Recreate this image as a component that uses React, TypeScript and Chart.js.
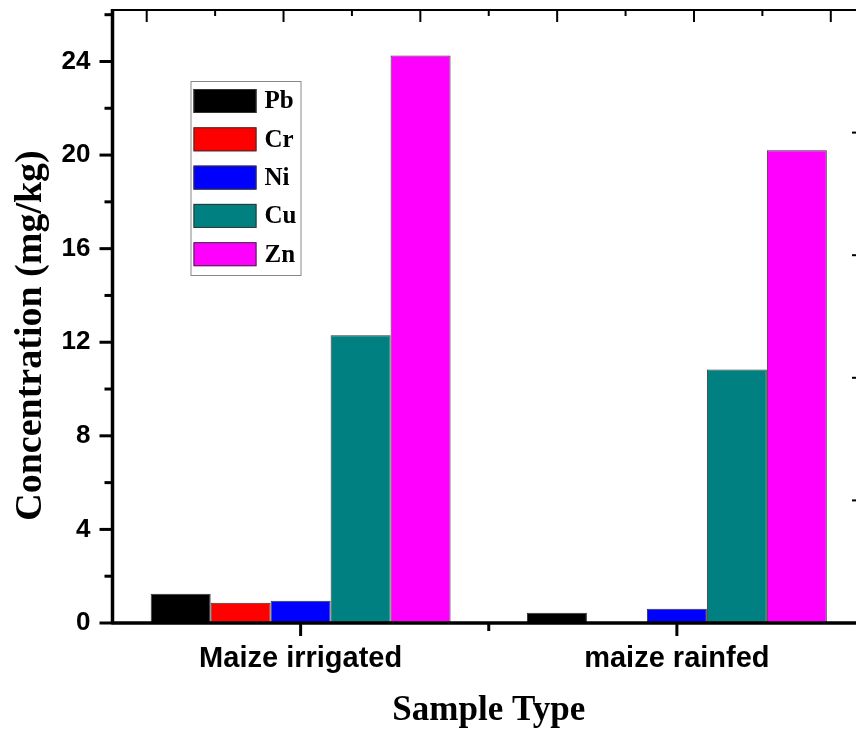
import React, { useEffect, useRef } from "react";
import { Chart, registerables } from "chart.js";

Chart.register(...registerables);

const categories = ["Maize irrigated", "maize rainfed"];
const seriesNames = ["Pb", "Cr", "Ni", "Cu", "Zn"];
const seriesColors = ["#000000", "#ff0000", "#0000ff", "#008080", "#ff00ff"];
const pbValues = [1.25, 0.44];
const crValues = [0.87, 0];
const niValues = [0.95, 0.61];
const cuValues = [12.3, 10.83];
const znValues = [24.25, 20.21];
const yMajorTicks = [0, 4, 8, 12, 16, 20, 24];
const yTitle = "Concentration (mg/kg)";
const xTitle = "Sample Type";

const allValues = [pbValues, crValues, niValues, cuValues, znValues];

const noPad = (s: any) => {
  s.paddingTop = 0;
  s.paddingBottom = 0;
  s.paddingLeft = 0;
  s.paddingRight = 0;
};

const framePlugin = {
  id: "originFrame",
  afterDatasetsDraw(chart: any) {
    const { ctx, chartArea, scales } = chart;
    const { left, right, top, bottom } = chartArea;
    const y = scales.y;
    const x = scales.x;
    const xTop = scales.xTop;
    const yRight = scales.yRight;
    ctx.save();
    ctx.strokeStyle = "#000";
    ctx.lineCap = "butt";

    // top and right lines
    ctx.lineWidth = 2;
    ctx.beginPath();
    ctx.moveTo(left, top);
    ctx.lineTo(right, top);
    ctx.moveTo(right, top);
    ctx.lineTo(right, bottom);
    ctx.stroke();

    // top ticks (inward)
    for (let v = 0; v <= 5.0001; v += 0.5) {
      const px = xTop.getPixelForValue(v);
      const major = Math.abs(v - Math.round(v)) < 1e-6;
      ctx.beginPath();
      ctx.moveTo(px, top);
      ctx.lineTo(px, top + (major ? 12 : 6));
      ctx.stroke();
    }
    // right ticks (inward)
    for (let v = 0; v <= 5.0001; v += 1) {
      const py = yRight.getPixelForValue(v);
      ctx.beginPath();
      ctx.moveTo(right, py);
      ctx.lineTo(right - 13, py);
      ctx.stroke();
    }

    // left axis & bottom axis thick
    ctx.lineWidth = 3.5;
    ctx.beginPath();
    ctx.moveTo(left, top - 1);
    ctx.lineTo(left, bottom + 1);
    ctx.stroke();
    ctx.beginPath();
    ctx.moveTo(left - 1, bottom);
    ctx.lineTo(right, bottom);
    ctx.stroke();

    // left ticks outward
    ctx.lineWidth = 3;
    for (let v = 0; v <= 26.0001; v += 2) {
      const py = y.getPixelForValue(v);
      const major = yMajorTicks.includes(v);
      ctx.beginPath();
      ctx.moveTo(left, py);
      ctx.lineTo(left - (major ? 13 : 8), py);
      ctx.stroke();
    }
    // bottom ticks outward
    const n = categories.length;
    for (let i = 0; i < n; i++) {
      const px = x.getPixelForValue(i);
      ctx.beginPath();
      ctx.moveTo(px, bottom);
      ctx.lineTo(px, bottom + 13);
      ctx.stroke();
      if (i < n - 1) {
        const mx = (px + x.getPixelForValue(i + 1)) / 2;
        ctx.beginPath();
        ctx.moveTo(mx, bottom);
        ctx.lineTo(mx, bottom + 8);
        ctx.stroke();
      }
    }

    // legend
    const lx = left + 78;
    const ly = top + 71;
    const rowH = 38.3;
    const boxW = 110;
    const boxH = 194;
    ctx.fillStyle = "#fff";
    ctx.fillRect(lx, ly, boxW, boxH);
    ctx.lineWidth = 1;
    ctx.strokeStyle = "#888";
    ctx.strokeRect(lx + 0.5, ly + 0.5, boxW, boxH);
    chart.data.datasets.forEach((ds: any, i: number) => {
      const cy = ly + 20 + i * rowH;
      ctx.fillStyle = ds.backgroundColor;
      ctx.fillRect(lx + 3, cy - 12, 63, 24);
      ctx.strokeStyle = "#333";
      ctx.lineWidth = 1;
      ctx.strokeRect(lx + 3.5, cy - 11.5, 62, 23);
      ctx.fillStyle = "#000";
      ctx.font = 'bold 25px "Liberation Serif"';
      ctx.textAlign = "left";
      ctx.textBaseline = "middle";
      ctx.fillText(ds.label, lx + 74, cy + 1);
    });

    // y title
    ctx.save();
    ctx.translate(31, (top + bottom) / 2 + 19);
    ctx.rotate(-Math.PI / 2);
    ctx.fillStyle = "#000";
    ctx.font = 'bold 38px "Liberation Serif"';
    ctx.textAlign = "center";
    ctx.textBaseline = "middle";
    ctx.fillText(yTitle, 0, 0);
    ctx.restore();

    ctx.restore();
  },
};

export default function App() {
  const ref = useRef<HTMLCanvasElement>(null);
  useEffect(() => {
    if (!ref.current) return;
    const chart = new Chart(ref.current, {
      type: "bar",
      data: {
        labels: categories,
        datasets: seriesNames.map((name, i) => ({
          label: name,
          data: allValues[i],
          backgroundColor: seriesColors[i],
          borderColor: "#333333",
          borderWidth: 1,
          barPercentage: 1,
          categoryPercentage: 0.797,
        })),
      },
      options: {
        responsive: false,
        animation: false,
        devicePixelRatio: 1,
        layout: { padding: { top: 10, right: 15, left: 0, bottom: 0 } },
        plugins: {
          legend: { display: false },
          tooltip: { enabled: false },
        },
        scales: {
          x: {
            type: "category",
            offset: true,
            grid: { display: false, drawTicks: false },
            border: { display: false },
            ticks: {
              color: "#000",
              padding: 19,
              maxRotation: 0,
              font: { family: "Liberation Sans", weight: "bold", size: 29 },
            },
            title: {
              display: true,
              text: xTitle,
              color: "#000",
              font: { family: "Liberation Serif", weight: "bold", size: 35 },
              padding: { top: 0, bottom: 0 },
            },
            afterFit: (s: any) => {
              s.height = 109;
              noPad(s);
            },
          },
          xTop: {
            type: "linear",
            position: "top",
            min: 0,
            max: 5,
            display: true,
            grid: { display: false, drawTicks: false },
            border: { display: false },
            ticks: { display: false },
            afterFit: (s: any) => {
              s.height = 0;
              noPad(s);
            },
          },
          y: {
            type: "linear",
            position: "left",
            min: 0,
            max: 26.2,
            grid: { display: false, drawTicks: false },
            border: { display: false },
            ticks: {
              stepSize: 4,
              includeBounds: false,
              color: "#000",
              padding: 22,
              font: { family: "Liberation Sans", weight: "bold", size: 26 },
              callback: (v: any) => (yMajorTicks.includes(Number(v)) ? String(v) : ""),
            },
            afterFit: (s: any) => {
              s.width = 112.5;
              noPad(s);
            },
          },
          yRight: {
            type: "linear",
            position: "right",
            min: 0,
            max: 5,
            display: true,
            grid: { display: false, drawTicks: false },
            border: { display: false },
            ticks: { display: false },
            afterFit: (s: any) => {
              s.width = 0;
              noPad(s);
            },
          },
        },
      } as any,
      plugins: [framePlugin],
    });
    return () => chart.destroy();
  }, []);

  return (
    <div
      style={{
        position: "fixed",
        left: 0,
        top: 0,
        width: 856,
        height: 732,
        overflow: "hidden",
        background: "#fff",
      }}
    >
      <canvas ref={ref} width={880} height={732} style={{ display: "block" }} />
    </div>
  );
}
